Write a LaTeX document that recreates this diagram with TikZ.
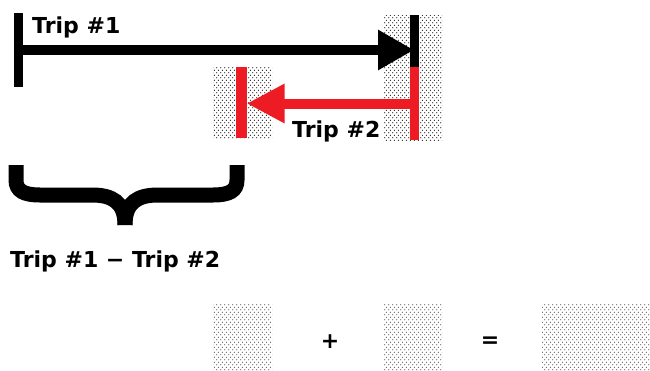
\documentclass[tikz,border=0pt]{standalone}
\usepackage{fontspec}
\setmainfont{DejaVu Sans}
\usetikzlibrary{arrows.meta,patterns.meta,positioning}
\definecolor{TripRed}{HTML}{ED1C24}
\tikzdeclarepattern{name=tripdots,type=uncolored,
    bottom left={(0pt,0pt)},top right={(4pt,5.4pt)},tile size={(4pt,5.4pt)},
    code={\fill (1pt,1.35pt) circle (0.75pt); \fill (3pt,4.05pt) circle (0.75pt);}}

\begin{document}
\begin{tikzpicture}[x=1pt,y=-1pt,
    tripbar/.style={fill=#1,inner sep=0pt,minimum width=9pt},
    dotbox/.style={pattern=tripdots,pattern color=#1},
    triplabel/.style={font=\bfseries\fontsize{22}{26}\selectfont,inner sep=0pt}]
    \useasboundingbox (0,0) rectangle (650,370);
    % dotted areas
    \foreach \xa/\ya/\xb/\yb in {213/67/272/138, 383/15/442/140}
        \fill[dotbox=black!85] (\xa,\ya) rectangle (\xb,\yb);
    \foreach \xa/\ya/\xb/\yb in {213/303/272/370, 383/303/442/370, 542/303/650/370}
        \fill[dotbox=black!60] (\xa,\ya) rectangle (\xb,\yb);

    \node[tripbar=black,minimum height=74pt] (s1) at (18,50) {};
    \node[tripbar=black,minimum height=52pt] (e1) at (414,41) {};
    \node[tripbar=TripRed,minimum height=73pt] (e2) at (414,103.5) {};
    \node[tripbar=TripRed,minimum height=71pt,minimum width=11pt] (s2) at (241,102.5) {};

    \draw[line width=10pt,-{Triangle[length=36pt,width=38pt]}] (s1.center) -- (s1.center -| e1.center);
    \draw[TripRed,line width=10pt,-{Triangle[length=38pt,width=37pt]}] (e2.center) -- (e2.center -| s2.east);

    \node[triplabel,anchor=base west] (t1) at (32,33) {Trip \#1};
    \node[triplabel,anchor=base west] (t2) at (292,137) {Trip \#2};

    % brace
    \draw[line width=15pt] (16,165) -- (16,180) .. controls (16,191) and (24,195) .. (40,195) -- (92,195) .. controls (112,195) and (125,202) .. (125,225);
    \draw[line width=15pt] (237,165) -- (237,180) .. controls (237,191) and (229,195) .. (213,195) -- (158,195) .. controls (138,195) and (125,202) .. (125,225);
    \node[triplabel,anchor=base west] (diff) at (10,267) {Trip \#1 − Trip \#2};

    \node[triplabel] (plus) at (330,342) {+};
    \node[triplabel] (eq) at (490,342) {=};
\end{tikzpicture}
\end{document}
